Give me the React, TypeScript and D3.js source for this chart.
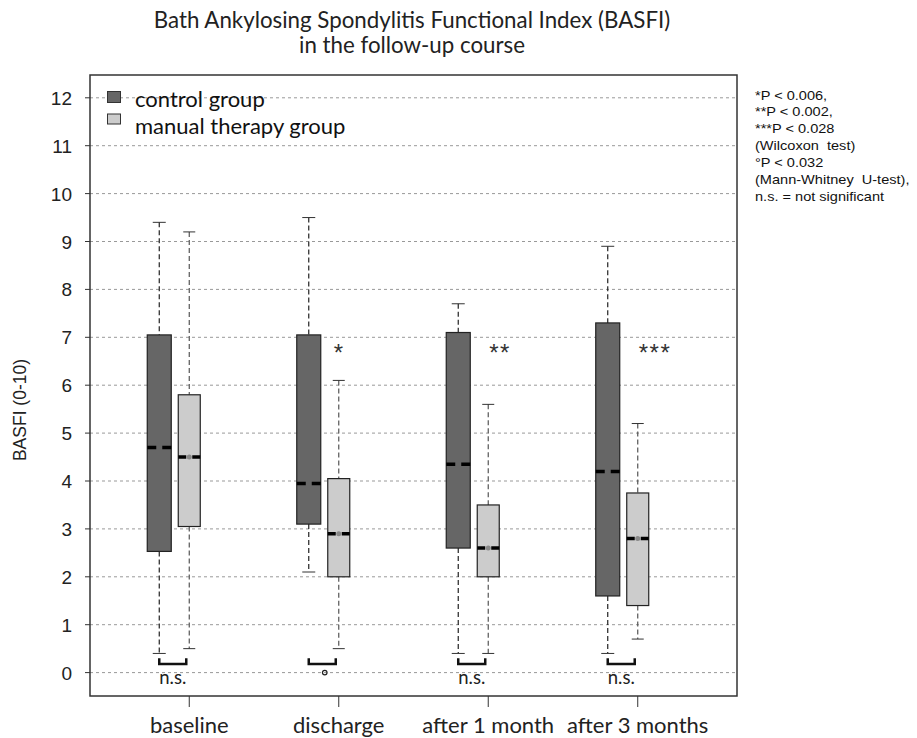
import * as d3 from "d3";

const categories = ["baseline", "discharge", "after 1 month", "after 3 months"];

const controlMin = [0.4, 2.1, 0.4, 0.4];
const controlQ1 = [2.53, 3.1, 2.6, 1.6];
const controlMedian = [4.7, 3.95, 4.35, 4.2];
const controlQ3 = [7.05, 7.05, 7.1, 7.3];
const controlMax = [9.4, 9.5, 7.7, 8.9];

const manualMin = [0.5, 0.5, 0.4, 0.7];
const manualQ1 = [3.05, 2.0, 2.0, 1.4];
const manualMedian = [4.5, 2.9, 2.6, 2.8];
const manualQ3 = [5.8, 4.05, 3.5, 3.75];
const manualMax = [9.2, 6.1, 5.6, 5.2];

const withinMarks = ["", "*", "**", "***"];
const betweenMarks = ["n.s.", "°", "n.s.", "n.s."];

const yTicks = d3.range(0, 13);

const footnotes = [
  "*P < 0.006,",
  "**P < 0.002,",
  "***P < 0.028",
  "(Wilcoxon  test)",
  "°P < 0.032",
  "(Mann-Whitney  U-test),",
  "n.s. = not significant",
];

const W = 917;
const H = 738;
const frame = { left: 90, right: 737, top: 75, bottom: 696 };
const sansTitle = "Lato, 'Open Sans', sans-serif";
const arial = "'Liberation Sans', Arial, sans-serif";

export default function App() {
  const x = d3.scalePoint<string>().domain(categories).range([frame.left, frame.right]).padding(0.664);
  const y = d3.scaleLinear().domain([0, 12]).range([672.6, 97.8]);

  const groups = [
    { key: "control", fill: "#666666", dx: -30, w: 24, cap: 13, whisker: "#222", min: controlMin, q1: controlQ1, med: controlMedian, q3: controlQ3, max: controlMax, dot: false },
    { key: "manual", fill: "#cccccc", dx: 0, w: 22, cap: 12, whisker: "#555", min: manualMin, q1: manualQ1, med: manualMedian, q3: manualQ3, max: manualMax, dot: true },
  ];

  return (
    <svg width={W} height={H} style={{ position: "absolute", left: 0, top: 0, background: "#fff" }}>
      <text x={412} y={28} textAnchor="middle" fontFamily={sansTitle} fontSize={22.3} fill="#222">
        Bath Ankylosing Spondylitis Functional Index (BASFI)
      </text>
      <text x={412} y={53} textAnchor="middle" fontFamily={sansTitle} fontSize={22.3} fill="#222">
        in the follow-up course
      </text>

      {/* grid */}
      {yTicks.map((t) => (
        <g key={t}>
          <line x1={frame.left} x2={frame.right} y1={y(t)} y2={y(t)} stroke="#999" strokeDasharray="3,3" />
          <line x1={frame.left - 5} x2={frame.left} y1={y(t)} y2={y(t)} stroke="#333" />
          <text x={72} y={y(t) + 7} textAnchor="end" fontFamily={arial} fontSize={19} fill="#222">
            {t}
          </text>
        </g>
      ))}

      <text transform={`translate(26,410) rotate(-90)`} textAnchor="middle" fontFamily={arial} fontSize={17.5} fill="#222">
        BASFI (0-10)
      </text>

      {/* boxes */}
      {categories.map((c, i) => (
        <g key={c}>
          {groups.map((g) => {
            const cx = x(c)! + g.dx;
            return (
              <g key={g.key}>
                <line x1={cx} x2={cx} y1={y(g.max[i])} y2={y(g.q3[i])} stroke={g.whisker} strokeDasharray="5,3" strokeWidth={1.2} />
                <line x1={cx} x2={cx} y1={y(g.q1[i])} y2={y(g.min[i])} stroke={g.whisker} strokeDasharray="5,3" strokeWidth={1.2} />
                <line x1={cx - g.cap / 2} x2={cx + g.cap / 2} y1={y(g.max[i])} y2={y(g.max[i])} stroke="#333" />
                <line x1={cx - g.cap / 2} x2={cx + g.cap / 2} y1={y(g.min[i])} y2={y(g.min[i])} stroke="#333" />
                <rect x={cx - g.w / 2} y={y(g.q3[i])} width={g.w} height={y(g.q1[i]) - y(g.q3[i])} fill={g.fill} stroke="#222" strokeWidth={1.2} />
                <line x1={cx - g.w / 2} x2={cx + g.w / 2} y1={y(g.med[i])} y2={y(g.med[i])} stroke="#000" strokeWidth={3.5} strokeDasharray={`${g.w / 2 - 3},6`} />
                {g.dot && <circle cx={cx} cy={y(g.med[i])} r={2.5} fill="#888" />}
              </g>
            );
          })}
          {/* between-group bracket */}
          <path
            d={`M${x(c)! - 30},${y(0.3)} V${y(0.18)} H${x(c)! - 3} V${y(0.3)}`}
            fill="none"
            stroke="#111"
            strokeWidth={2.5}
          />
          {betweenMarks[i] === "°" ? (
            <circle cx={x(c)! - 14} cy={y(0)} r={2.3} fill="none" stroke="#222" strokeWidth={1.2} />
          ) : (
            <text x={x(c)! - 16.5} y={y(0) + 11} textAnchor="middle" fontFamily={sansTitle} fontSize={18.5} fill="#222">
              {betweenMarks[i]}
            </text>
          )}
          {withinMarks[i] && (
            <text x={x(c)! + (i === 1 ? -5 : 1)} y={y(6.75) + 12} fontFamily={arial} fontSize={24} letterSpacing={1.5} fill="#333">
              {withinMarks[i]}
            </text>
          )}
          <line x1={x(c)} x2={x(c)} y1={frame.bottom} y2={frame.bottom + 11} stroke="#333" />
          <text x={x(c)} y={733} textAnchor="middle" fontFamily={sansTitle} fontSize={22} fill="#222">
            {c}
          </text>
        </g>
      ))}

      {/* frame */}
      <rect x={frame.left} y={frame.top} width={frame.right - frame.left} height={frame.bottom - frame.top} fill="none" stroke="#333" strokeWidth={1.5} />

      {/* legend */}
      <rect x={107.5} y={91.5} width={13} height={11} fill="#666666" stroke="#333" />
      <text x={135} y={107} fontFamily={sansTitle} fontSize={22} fill="#111">
        control group
      </text>
      <rect x={107.5} y={114} width={13} height={10} fill="#cccccc" stroke="#333" />
      <text x={135} y={134} fontFamily={sansTitle} fontSize={22} fill="#111">
        manual therapy group
      </text>

      {footnotes.map((f, i) => (
        <text
          key={f}
          transform={`translate(755,${99.5 + i * 16.9}) scale(1.12,1)`}
          fontFamily={arial}
          fontSize={13}
          fill="#111"
          style={{ whiteSpace: "pre" }}
        >
          {f}
        </text>
      ))}
    </svg>
  );
}
